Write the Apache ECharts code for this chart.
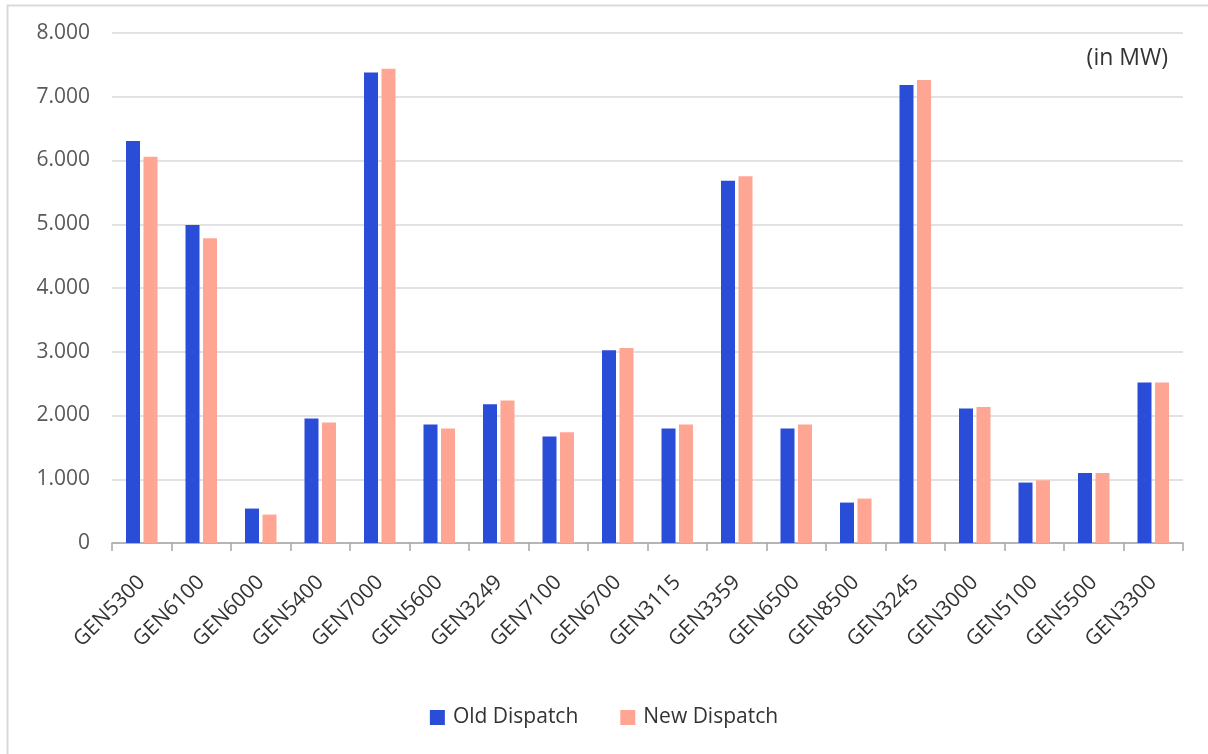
<!DOCTYPE html>
<html>
<head>
<meta charset="utf-8">
<script src="https://cdn.jsdelivr.net/npm/echarts@6/dist/echarts.min.js"></script>
<style>
html,body{margin:0;padding:0;background:#fff;}
#chart{width:1208px;height:754px;}
</style>
</head>
<body>
<div id="chart"></div>
<script>
const categories = ['GEN5300','GEN6100','GEN6000','GEN5400','GEN7000','GEN5600','GEN3249','GEN7100','GEN6700','GEN3115','GEN3359','GEN6500','GEN8500','GEN3245','GEN3000','GEN5100','GEN5500','GEN3300'];
const oldDispatch = [6306, 4990, 540, 1953, 7380, 1859, 2177, 1670, 3025, 1796, 5683, 1796, 634, 7185, 2110, 948, 1099, 2518];
const newDispatch = [6060, 4780, 446, 1890, 7440, 1796, 2235, 1738, 3058, 1859, 5752, 1859, 697, 7264, 2135, 984, 1099, 2518];
const yTicks = {min: 0, max: 8000, interval: 1000};
const unitLabel = '(in MW)';

const FONT = '"Open Sans", "Noto Sans", sans-serif';
const chart = echarts.init(document.getElementById('chart'), null, {renderer: 'canvas'});
chart.setOption({
  backgroundColor: '#ffffff',
  animation: false,
  graphic: [
    {type: 'rect', shape: {x: 7.5, y: 5.5, width: 1220, height: 780}, style: {fill: 'none', stroke: '#d9d9d9', lineWidth: 2}, silent: true, z: -1},
    {type: 'text', right: 40, top: 47, style: {text: unitLabel, font: '23px ' + FONT, fill: '#333333'}}
  ],
  grid: {left: 112, right: 25, top: 33, bottom: 211, containLabel: false},
  legend: {
    bottom: 21, left: 'center',
    itemWidth: 15, itemHeight: 15, itemGap: 42,
    icon: 'rect',
    textStyle: {fontFamily: FONT, fontSize: 21, color: '#333333', padding: [0,0,0,3]},
    data: ['Old Dispatch', 'New Dispatch']
  },
  xAxis: {
    type: 'category',
    data: categories,
    boundaryGap: true,
    axisLine: {lineStyle: {color: '#a6a6a6', width: 1.5}},
    axisTick: {show: true, length: 8, lineStyle: {color: '#a6a6a6', width: 1.5}},
    axisLabel: {rotate: 45, interval: 0, margin: 36, fontFamily: FONT, fontSize: 21, color: '#333333'}
  },
  yAxis: {
    type: 'value',
    min: yTicks.min, max: yTicks.max, interval: yTicks.interval,
    axisLine: {show: false},
    axisTick: {show: false},
    splitLine: {lineStyle: {color: '#d9d9d9', width: 1.5}},
    axisLabel: {
      margin: 22, fontFamily: FONT, fontSize: 21, color: '#595959',
      formatter: v => v === 0 ? '0' : String(v).replace(/\B(?=(\d{3})+(?!\d))/g, '.')
    }
  },
  series: [
    {name: 'Old Dispatch', type: 'bar', data: oldDispatch, barWidth: 14, barGap: '25%', itemStyle: {color: '#2a4dd8'}},
    {name: 'New Dispatch', type: 'bar', data: newDispatch, barWidth: 14, itemStyle: {color: '#ffa593'}}
  ]
});
</script>
</body>
</html>
